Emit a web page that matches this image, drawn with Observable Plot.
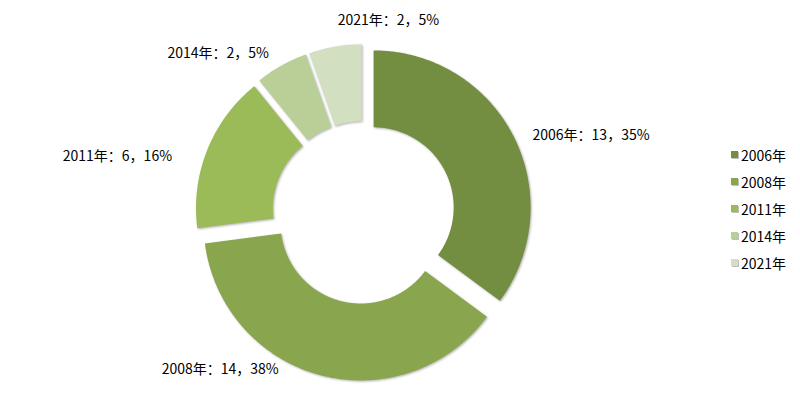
<!DOCTYPE html>
<html><head><meta charset="utf-8">
<script src="https://cdn.jsdelivr.net/npm/d3@7"></script>
<script src="https://cdn.jsdelivr.net/npm/@observablehq/plot@0.6"></script>
<style>
html,body{margin:0;padding:0;background:#fff;}
#wrap{position:relative;width:800px;height:396px;overflow:hidden;font-family:"Noto Sans CJK SC","Liberation Sans",sans-serif;}
#legend{position:absolute;left:731px;top:141px;}
#legend .lg-swatches{font-family:"Noto Sans CJK SC","Liberation Sans",sans-serif !important;font-size:14px !important;color:#000 !important;margin:0 !important;}
#legend .lg-swatch{height:27px !important;padding:0 !important;margin:0 !important;display:flex !important;align-items:center !important;}
#legend .lg-swatch > svg{margin-right:3px !important;filter:drop-shadow(1px 1px 0.6px rgba(0,0,0,0.25));}
</style></head><body><div id="wrap"><div id="legend"></div></div>
<script>
// ---- data ----
const years = ["2006年","2008年","2011年","2014年","2021年"];
const counts = [13, 14, 6, 2, 2];
const colors = ["#738E40","#89A54E","#9BBB59","#BACF98","#D3DFC1"];

// ---- layout ----
const W = 800, H = 396, cx = 363, cy = 212, R = 157;
const innerRatio = 0.51, explode = 0.072, labelR = 1.17;
const labelLayout = [
  {anchor: "start",  dx: 5,   dy: 6},
  {anchor: "middle", dx: -97, dy: -21},
  {anchor: "end",    dx: -21, dy: 13},
  {anchor: "end",    dx: -5,  dy: 1},
  {anchor: "middle", dx: 56,  dy: -11}
];

const total = d3.sum(counts);
const pie = d3.pie().sort(null).startAngle(0).endAngle(2 * Math.PI)(counts);

// outline of each exploded donut slice, in units of the outer radius
const slicePts = [];
pie.forEach((p, i) => {
  const mid = (p.startAngle + p.endAngle) / 2;
  const ox = explode * Math.sin(mid), oy = explode * Math.cos(mid);
  const n = Math.max(8, Math.ceil((p.endAngle - p.startAngle) / (Math.PI / 360)));
  for (let k = 0; k <= n; k++) {
    const a = p.startAngle + (p.endAngle - p.startAngle) * k / n;
    slicePts.push({key: years[i], x: ox + Math.sin(a), y: oy + Math.cos(a)});
  }
  for (let k = n; k >= 0; k--) {
    const a = p.startAngle + (p.endAngle - p.startAngle) * k / n;
    slicePts.push({key: years[i], x: ox + innerRatio * Math.sin(a), y: oy + innerRatio * Math.cos(a)});
  }
});

const labels = pie.map((p, i) => {
  const mid = (p.startAngle + p.endAngle) / 2;
  const L = labelLayout[i];
  return {
    text: `${years[i]}：${counts[i]}，${Math.round(counts[i] / total * 100)}%`,
    x: labelR * Math.sin(mid) + L.dx / R,
    y: labelR * Math.cos(mid) - L.dy / R,
    anchor: L.anchor
  };
});

const plot = Plot.plot({
  width: W, height: H,
  margin: 0,
  x: {domain: [-1, 1], range: [cx - R, cx + R], axis: null},
  y: {domain: [-1, 1], range: [cy + R, cy - R], axis: null},
  color: {domain: years, range: colors},
  style: {background: "#fff", fontFamily: "'Noto Sans CJK SC','Liberation Sans',sans-serif", fontSize: "14px", overflow: "visible"},
  marks: [
    Plot.line(slicePts, {x: "x", y: "y", z: "key", fill: "key", stroke: "none", curve: "linear-closed"}),
    ...labels.map(d => Plot.text([d], {x: "x", y: "y", text: "text", textAnchor: d.anchor, fill: "#000", fontSize: 14}))
  ]
});
plot.querySelectorAll('g[aria-label="line"]').forEach(g => g.style.filter = "drop-shadow(1.5px 1.5px 1.2px rgba(0,0,0,0.3))");
document.getElementById("wrap").insertBefore(plot, document.getElementById("legend"));

const lg = Plot.legend({
  color: {type: "ordinal", domain: years, range: colors},
  legend: "swatches", columns: 1, swatchSize: 7, className: "lg",
  style: {fontSize: "14px", fontFamily: "'Noto Sans CJK SC','Liberation Sans',sans-serif", color: "#000"}
});
document.getElementById("legend").appendChild(lg);
</script></body></html>
